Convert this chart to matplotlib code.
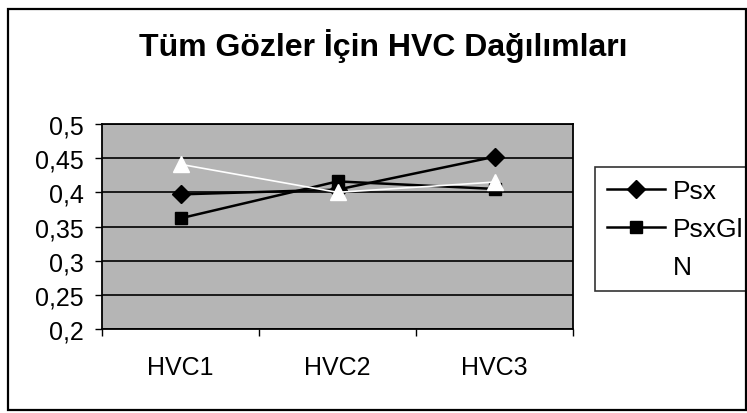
import matplotlib
matplotlib.use("Agg")
import matplotlib.pyplot as plt
from matplotlib.patches import Rectangle

plt.rcParams['font.family'] = ['Liberation Sans', 'DejaVu Sans']

# data
categories = ["HVC1", "HVC2", "HVC3"]
psx = [0.397, 0.404, 0.452]
psxgl = [0.362, 0.416, 0.405]
n_vals = [0.441, 0.400, 0.415]
y_ticks = [0.2, 0.25, 0.3, 0.35, 0.4, 0.45, 0.5]
y_labels = ["0,2", "0,25", "0,3", "0,35", "0,4", "0,45", "0,5"]
title = "Tüm Gözler İçin HVC Dağılımları"

W, H = 747, 414
fig = plt.figure(figsize=(W / 100, H / 100), dpi=100)
fig.patch.set_facecolor("white")

# plot area in pixels: x 102..573, y 125..330
ax = fig.add_axes([102 / W, 1 - 330 / H, (573 - 102) / W, (330 - 125) / H])
ax.set_facecolor("#b5b5b5")

x = list(range(len(categories)))
ax.plot(x, psx, color="black", lw=1.8, marker="D", ms=9, label="Psx", zorder=4)
ax.plot(x, psxgl, color="black", lw=1.8, marker="s", ms=8, label="PsxGl", zorder=3)
ax.plot(x, n_vals, color="white", lw=1.2, marker="^", ms=11,
        markeredgecolor="white", label="N", zorder=5)

ax.set_xlim(-0.5, len(categories) - 0.5)
ax.set_ylim(0.2, 0.5)
ax.set_yticks(y_ticks)
ax.set_yticklabels(y_labels, fontsize=18)
ax.set_xticks(x)
ax.set_xticklabels(categories, fontsize=18)
ax.set_xticks([i - 0.5 for i in range(len(categories) + 1)], minor=True)
ax.tick_params(axis="x", which="major", length=0, pad=19)
ax.tick_params(axis="x", which="minor", length=5, width=1, direction="out")
ax.tick_params(axis="y", length=5, width=1, direction="out", pad=8)
ax.yaxis.grid(True, color="black", lw=1.2)
ax.set_axisbelow(True)
for s in ax.spines.values():
    s.set_color("black")
    s.set_linewidth(1.3)

leg = ax.legend(loc="upper left", bbox_to_anchor=(595 / W, 1 - 168 / H),
                bbox_transform=fig.transFigure, fontsize=19, frameon=True,
                fancybox=False, edgecolor="black", handlelength=2.2,
                labelspacing=0.53, borderpad=0.45, handletextpad=0.3,
                borderaxespad=0, numpoints=1)
leg.get_frame().set_linewidth(1.2)

fig.text(383 / W, 1 - 46 / H, title, ha="center", va="center",
         fontsize=23, fontweight="bold")

# outer chart border
fig.patches.append(Rectangle((8 / W, 1 - 411 / H), (746 - 8) / W, (411 - 10) / H,
                             transform=fig.transFigure, fill=False,
                             edgecolor="black", lw=1.6))

fig.savefig("out.png", dpi=100)
